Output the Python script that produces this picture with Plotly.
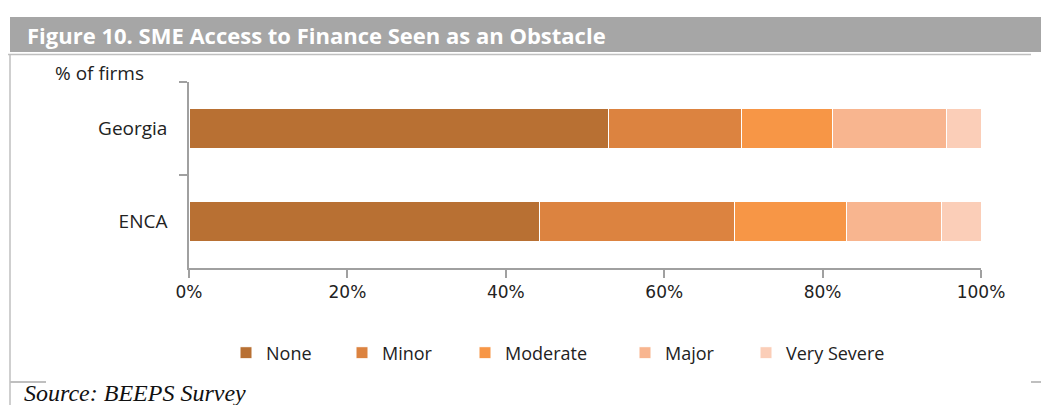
import plotly.graph_objects as go

categories = ["Georgia", "ENCA"]
series_names = ["None", "Minor", "Moderate", "Major", "Very Severe"]
none_vals = [53.0, 44.2]
minor_vals = [16.7, 24.7]
moderate_vals = [11.6, 14.1]
major_vals = [14.4, 12.0]
very_severe_vals = [4.3, 5.0]
x_ticks = [0, 20, 40, 60, 80, 100]

colors = ["#B87033", "#DC8340", "#F79646", "#F8B58F", "#FBCEB8"]
series_values = [none_vals, minor_vals, moderate_vals, major_vals, very_severe_vals]
legend_marker_x = [247, 363, 486, 646, 767]  # screen px of legend markers

# page body offset (browser default margin)
OFF = 8
W, H = 1049 - OFF, 405 - OFF
# plot area in screen pixels
L, R, T, B = 189, 981, 82, 268
pw, ph = R - L, B - T

def px(x):
    return (x - L) / pw

def py(y):
    return (B - y) / ph

fig = go.Figure()
legend_layouts = {}
for i, (name, vals, col) in enumerate(zip(series_names, series_values, colors)):
    lname = "legend" if i == 0 else f"legend{i+1}"
    fig.add_trace(go.Bar(
        y=categories, x=vals, name=name, orientation="h",
        marker=dict(color=col, line=dict(color="white", width=1)),
        legend=lname,
    ))
    legend_layouts[lname] = dict(
        orientation="h", x=px(legend_marker_x[i] - 21), y=py(353),
        xanchor="left", yanchor="middle",
        font=dict(family="Open Sans", size=18, color="#222222"),
        itemwidth=30, bgcolor="rgba(0,0,0,0)",
    )

axis_col = "#A0A0A0"
fig.update_layout(
    width=W, height=H,
    margin=dict(l=L - OFF, r=(W + OFF) - R, t=T - OFF, b=(H + OFF) - B, pad=0),
    barmode="stack", bargap=0.58,
    plot_bgcolor="white", paper_bgcolor="white",
    showlegend=True,
    xaxis=dict(range=[0, 100], tickvals=x_ticks, ticktext=[f"{v}%" for v in x_ticks],
               showgrid=False, zeroline=False, showline=True, linecolor=axis_col, linewidth=1.5,
               ticks="outside", ticklen=8, tickcolor=axis_col, tickwidth=1.5,
               tickfont=dict(family="DejaVu Sans", size=17, color="#222222"), fixedrange=True),
    yaxis=dict(categoryorder="array", categoryarray=categories, autorange="reversed",
               showgrid=False, zeroline=False, showline=True, linecolor=axis_col, linewidth=1.5,
               ticks="outside", ticklen=8, tickcolor=axis_col, tickwidth=1.5, tickson="boundaries",
               tickfont=dict(family="Open Sans", size=19, color="#222222"), ticklabelstandoff=16,
               fixedrange=True),
    shapes=[
        dict(type="rect", xref="paper", yref="paper", x0=px(10), x1=px(1049), y0=py(52), y1=py(17),
             fillcolor="#A6A6A6", line=dict(width=0), layer="below"),
        dict(type="line", xref="paper", yref="paper", x0=px(0), x1=px(1031), y0=py(54.5), y1=py(54.5),
             line=dict(color="#BFBFBF", width=1.5)),
        dict(type="line", xref="paper", yref="paper", x0=px(10), x1=px(10), y0=py(54), y1=py(405),
             line=dict(color="#BFBFBF", width=1.5)),
        dict(type="line", xref="paper", yref="paper", x0=px(10), x1=px(46), y0=py(382), y1=py(382),
             line=dict(color="#BFBFBF", width=2)),
        dict(type="line", xref="paper", yref="paper", x0=px(1031), x1=px(1049), y0=py(382), y1=py(382),
             line=dict(color="#BFBFBF", width=2)),
    ],
    annotations=[
        dict(text="<b>Figure 10. SME Access to Finance Seen as an Obstacle</b>", xref="paper", yref="paper",
             x=px(25), y=py(35), xanchor="left", yanchor="middle", showarrow=False,
             font=dict(family="Open Sans", size=22, color="white")),
        dict(text="% of firms", xref="paper", yref="paper", x=px(53), y=py(73),
             xanchor="left", yanchor="middle", showarrow=False,
             font=dict(family="Open Sans", size=19, color="#222222")),
        dict(text="<i>Source: BEEPS Survey</i>", xref="paper", yref="paper", x=px(22), y=py(393),
             xanchor="left", yanchor="middle", showarrow=False,
             font=dict(family="Liberation Serif", size=24, color="#111111")),
    ],
    **legend_layouts,
)

fig.write_html("out.html")
